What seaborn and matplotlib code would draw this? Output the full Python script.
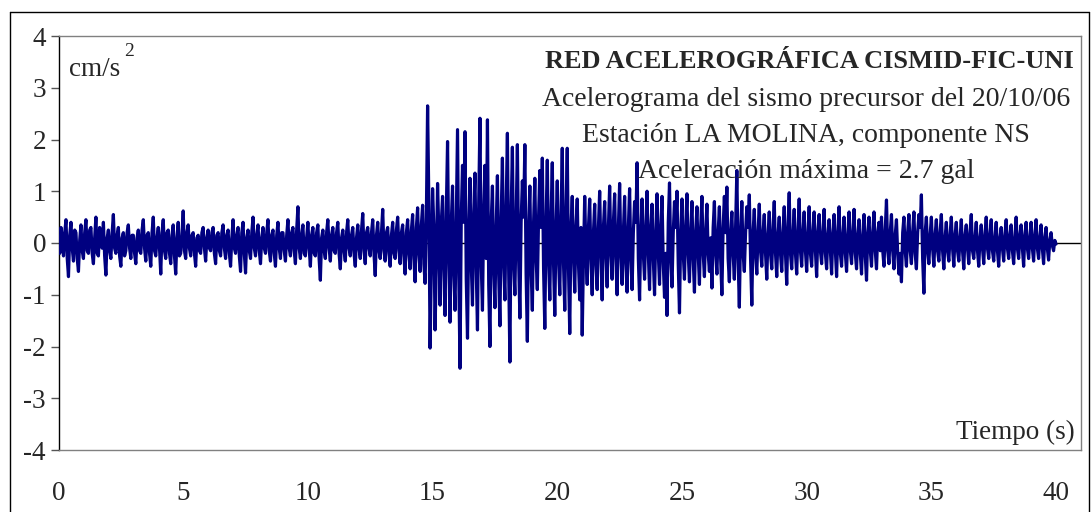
import numpy as np
import pandas as pd
import matplotlib
matplotlib.use("Agg")
import matplotlib.pyplot as plt
import seaborn as sns
from matplotlib.lines import Line2D

DT = 0.05

# 0 - 14 s: ruido previo al evento
acc_pre = [
    0.05, -0.20, 0.30, 0.10, -0.25, 0.20, 0.45, -0.30, -0.65, 0.15, 0.40, -0.10, -0.35, 0.25, 0.20, -0.30, -0.55, 0.05, 0.35, -0.15,
    -0.30, 0.20, 0.45, -0.15, -0.20, 0.25, 0.30, -0.20, -0.40, 0.10, 0.50, -0.20, -0.25, 0.30, 0.15, -0.10, 0.40, -0.25, -0.62, 0.10,
    0.25, -0.15, -0.30, 0.20, 0.55, -0.10, -0.20, 0.15, 0.30, -0.25, -0.45, 0.10, 0.20, -0.25, -0.15, 0.20, 0.35, -0.10, -0.30, 0.15,
    0.15, -0.20, -0.40, 0.10, 0.25, -0.15, -0.20, 0.25, 0.45, -0.10, -0.35, 0.15, 0.20, -0.20, -0.45, 0.20, 0.50, -0.15, -0.25, 0.10,
    0.30, -0.10, -0.60, 0.20, 0.45, -0.15, -0.30, 0.20, 0.25, -0.20, -0.40, 0.15, 0.35, -0.25, -0.60, 0.10, 0.40, -0.25, -0.20, 0.15,
    0.62, -0.15, -0.30, 0.20, 0.35, -0.10, -0.25, 0.15, 0.20, -0.20, -0.45, 0.10, 0.15, -0.15, -0.20, 0.20, 0.30, -0.10, -0.35, 0.10,
    0.25, -0.10, -0.15, 0.20, 0.30, -0.20, -0.40, 0.15, 0.20, -0.15, -0.25, 0.20, 0.35, -0.10, -0.30, 0.15, 0.25, -0.20, -0.45, 0.10,
    0.45, -0.10, -0.20, 0.15, 0.30, -0.25, -0.55, 0.20, 0.40, -0.20, -0.58, 0.10, 0.25, -0.15, -0.30, 0.20, 0.50, -0.10, -0.25, 0.15,
    0.35, -0.15, -0.40, 0.10, 0.30, -0.10, -0.20, 0.20, 0.45, -0.15, -0.35, 0.15, 0.25, -0.20, -0.45, 0.15, 0.40, -0.10, -0.30, 0.20,
    0.20, -0.15, -0.35, 0.15, 0.45, -0.10, -0.25, 0.20, 0.30, -0.15, -0.40, 0.25, 0.70, -0.10, -0.30, 0.15, 0.35, -0.20, -0.25, 0.10,
    0.40, -0.10, -0.45, 0.15, 0.30, -0.20, -0.25, 0.20, 0.35, -0.30, -0.72, 0.10, 0.25, -0.15, -0.30, 0.20, 0.45, -0.10, -0.35, 0.15,
    0.30, -0.15, -0.20, 0.20, 0.40, -0.20, -0.50, 0.10, 0.25, -0.15, -0.35, 0.20, 0.45, -0.10, -0.25, 0.15, 0.30, -0.20, -0.45, 0.10,
    0.35, -0.10, -0.30, 0.25, 0.57, -0.15, -0.40, 0.20, 0.30, -0.10, -0.25, 0.20, 0.45, -0.20, -0.63, 0.15, 0.40, -0.15, -0.30, 0.20,
    0.65, -0.15, -0.35, 0.20, 0.30, -0.20, -0.45, 0.15, 0.40, -0.20, -0.30, 0.25, 0.50, -0.15, -0.40, 0.20, 0.35, -0.25, -0.60, 0.20,
]

# 14 - 25 s: fase fuerte
acc_fuerte = [
    0.45, -0.20, -0.50, 0.25, 0.55, -0.30, -0.75, 0.30, 0.68, -0.20, -0.55, 0.35, 0.73, -0.40, -0.78, 0.50, 2.65, 0.80, -2.03, -0.40,
    1.05, 0.30, -1.68, -0.40, 1.15, 0.20, -1.20, 0.40, 0.90, -0.50, -1.40, 0.60, 1.96, -0.30, -1.53, 0.40, 1.10, -0.60, -1.30, 0.50,
    2.19, -0.60, -2.42, 0.50, 1.50, 0.40, 2.15, -0.70, -1.84, 0.30, 1.25, -0.40, -1.20, 0.60, 1.35, -0.50, -1.68, 0.80, 2.41, -0.40,
    -1.30, 0.60, 1.50, -0.30, 2.38, -0.80, -2.00, 0.40, 1.10, -0.50, -1.25, 0.30, 1.30, -0.60, -1.60, 0.50, 1.64, -0.40, -1.10, 0.70,
    2.12, -0.50, -2.30, 0.60, 1.85, -0.40, -1.00, 0.50, 1.90, -0.30, -1.45, 0.40, 1.20, 0.50, 1.90, -0.60, -1.90, 0.30, 1.10, -0.50,
    -1.30, 0.40, 1.25, -0.30, -0.90, 0.50, 1.40, 0.30, 1.64, -0.50, -1.65, 0.40, 1.60, -0.30, -1.10, 0.50, 1.55, -0.40, -1.40, 0.30,
    1.20, -0.30, -1.00, 0.50, 1.83, -0.40, -1.30, 0.60, 1.83, -0.50, -1.75, 0.30, 0.90, -0.20, -0.95, 0.30, 0.85, -0.40, -1.10, 0.30,
    -1.78, -0.30, 0.90, -0.20, -0.80, 0.30, 0.85, -0.30, -1.00, 0.20, 0.75, -0.40, -0.90, 0.30, 1.00, -0.20, -1.10, 0.30, 0.80, -0.20,
    -0.85, 0.30, 1.10, -0.20, -0.70, 0.40, 0.95, -0.30, -1.00, 0.30, 1.15, -0.20, -0.80, 0.20, 0.90, -0.40, -0.95, 0.30, 1.05, -0.30,
    -0.90, 0.20, 0.80, 0.40, 1.55, -0.30, -1.10, 0.20, 0.85, -0.20, -0.70, 0.30, 1.00, -0.20, -0.90, 0.30, 0.75, -0.30, -1.00, 0.20,
    0.95, -0.20, -0.80, 0.30, 0.90, -0.40, -1.05, -0.20, -1.40, 0.40, 1.16, -0.30, -0.85, 0.20, 0.80, 0.30, 1.00, -0.40, -1.35, 0.20,
]

# 25 - 40 s: coda
acc_coda = [
    0.85, -0.20, -0.70, 0.30, 0.95, -0.20, -0.75, 0.20, 0.80, -0.30, -0.95, 0.20, 0.70, -0.20, -0.80, 0.30, 0.90, -0.20, -0.65, 0.20,
    0.75, -0.20, -0.55, 0.10, -0.87, 0.30, 0.80, -0.20, -0.60, 0.20, 0.70, -0.30, -1.00, 0.30, 0.90, 0.20, 1.08, -0.30, -0.75, 0.20,
    0.60, -0.20, -0.70, 0.30, 1.40, -0.30, -1.24, 0.20, 0.80, -0.20, -0.55, 0.20, 0.70, 0.30, 0.93, -0.30, -1.20, 0.20, 0.65, -0.20,
    -0.60, 0.20, 0.75, -0.15, -0.45, 0.20, 0.55, -0.20, -0.70, 0.15, 0.60, -0.20, -0.50, 0.25, 0.80, -0.20, -0.65, 0.15, 0.50, -0.20,
    -0.55, 0.20, 0.70, -0.20, -0.80, 0.30, 0.97, -0.20, -0.50, 0.15, 0.65, -0.20, -0.60, 0.20, 0.85, -0.15, -0.45, 0.20, 0.60, -0.15,
    -0.55, 0.15, 0.70, -0.20, -0.45, 0.20, 0.60, -0.15, -0.65, 0.20, 0.55, -0.15, -0.40, 0.20, 0.65, -0.20, -0.50, 0.15, 0.45, -0.15,
    -0.60, 0.20, 0.55, -0.15, -0.65, 0.20, 0.70, -0.20, -0.45, 0.15, 0.50, -0.20, -0.55, 0.15, 0.60, -0.15, -0.40, 0.20, 0.65, -0.20,
    -0.50, 0.15, 0.45, -0.20, -0.60, 0.15, 0.55, -0.25, -0.72, 0.20, 0.50, -0.15, -0.45, 0.20, 0.60, -0.15, -0.50, 0.20, 0.40, -0.15,
    0.50, -0.15, -0.45, 0.25, 0.83, -0.15, -0.40, 0.20, 0.55, -0.15, -0.50, 0.15, 0.45, -0.20, -0.60, -0.20, -0.75, 0.20, 0.50, -0.15,
    -0.45, 0.20, 0.55, -0.15, -0.40, 0.20, 0.60, -0.20, -0.50, 0.20, 0.55, 0.30, 0.93, -0.30, -0.97, 0.20, 0.50, -0.15, -0.40, 0.15,
    0.50, -0.10, -0.45, 0.15, 0.45, -0.15, -0.35, 0.20, 0.55, -0.15, -0.50, 0.10, 0.40, -0.15, -0.35, 0.15, 0.50, -0.10, -0.45, 0.15,
    0.40, -0.15, -0.35, 0.10, 0.45, -0.15, -0.50, 0.15, 0.35, -0.10, -0.40, 0.20, 0.55, -0.15, -0.30, 0.10, 0.40, -0.15, -0.45, 0.10,
    0.35, -0.10, -0.40, 0.15, 0.50, -0.10, -0.30, 0.15, 0.45, -0.15, -0.35, 0.10, 0.40, -0.15, -0.45, 0.10, 0.30, -0.10, -0.35, 0.15,
    0.45, -0.10, -0.30, 0.15, 0.35, -0.15, -0.40, 0.10, 0.50, -0.10, -0.30, 0.15, 0.35, -0.10, -0.45, 0.15, 0.40, -0.10, -0.30, 0.10,
    0.40, -0.10, -0.35, 0.15, 0.45, -0.10, -0.30, 0.10, 0.35, -0.10, -0.40, 0.10, 0.30, -0.10, -0.33, 0.05, 0.20, -0.05, -0.15, 0.05,
    -0.02,
]

x_ticks = [0, 5, 10, 15, 20, 25, 30, 35, 40]
y_ticks = [-4, -3, -2, -1, 0, 1, 2, 3, 4]

titulo = "RED ACELEROGRÁFICA CISMID-FIC-UNI"
subtitulos = [
    "Acelerograma del sismo precursor del 20/10/06",
    "Estación LA MOLINA, componente NS",
    "Aceleración máxima = 2.7 gal",
]

acc = acc_pre + acc_fuerte + acc_coda
df = pd.DataFrame({"tiempo": np.arange(len(acc)) * DT, "acc": acc})

sns.set_style("white")
plt.rcParams["font.family"] = ["Liberation Serif", "DejaVu Serif"]
plt.rcParams["axes.unicode_minus"] = False

W, H = 1091, 512
fig = plt.figure(figsize=(W / 100, H / 100), dpi=100)
ax = fig.add_axes([58.5 / W, 62 / H, (1081 - 58.5) / W, 414 / H])

sns.lineplot(data=df, x="tiempo", y="acc", ax=ax, color="#000080",
             lw=2.3, estimator=None, errorbar=None, zorder=3)
ax.axhline(0, color="black", lw=1.0, zorder=1)

ax.set_xlim(0, 41)
ax.set_ylim(-4, 4)
ax.set_xticks(x_ticks)
ax.set_yticks(y_ticks)
ax.set_xlabel("")
ax.set_ylabel("")
ax.tick_params(axis="y", length=6, width=1, color="#555555", direction="out",
               pad=3, labelsize=19.5, left=True)
ax.tick_params(axis="x", length=0, pad=22, labelsize=19.5)

for side in ["top", "bottom", "right"]:
    ax.spines[side].set_color("#808080")
    ax.spines[side].set_linewidth(1.0)
ax.spines["left"].set_color("black")
ax.spines["left"].set_linewidth(1.0)

# marco exterior del grafico
for xs, ys in [([10, 1089], [12, 12]), ([10, 10], [12, 520]), ([1089, 1089], [12, 520])]:
    fig.add_artist(Line2D([x / W for x in xs], [1 - y / H for y in ys],
                          color="black", lw=1.0))

fig.text(809 / W, 1 - 62 / H, titulo, ha="center", va="center",
         fontsize=19, fontweight="bold")
for i, linea in enumerate(subtitulos):
    fig.text(806 / W, 1 - (100 + 36 * i) / H, linea, ha="center", va="center",
             fontsize=20)

fig.text(69 / W, 1 - 70 / H, "cm/s", ha="left", va="center", fontsize=19.5)
fig.text(124 / W, 1 - 52 / H, "2", ha="left", va="center", fontsize=14)
fig.text(1075 / W, 1 - 432 / H, "Tiempo (s)", ha="right", va="center", fontsize=19.5)

fig.savefig("out.png", dpi=100, facecolor="white")
